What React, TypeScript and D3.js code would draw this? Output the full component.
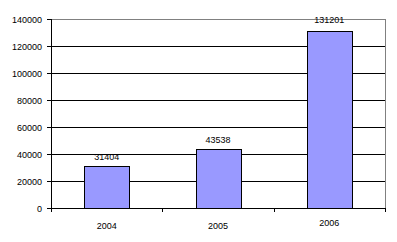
import React from "react";
import * as d3 from "d3";

const categories = ["2004", "2005", "2006"];
const values = [31404, 43538, 131201];
const yTicks = [0, 20000, 40000, 60000, 80000, 100000, 120000, 140000];

const W = 397;
const H = 242;
const left = 51;
const right = 385;
const top = 19;
const bottom = 208;

export default function App() {
  const x = d3.scaleBand<string>().domain(categories).range([left, right]).paddingInner(0).paddingOuter(0);
  const y = d3.scaleLinear().domain([0, 140000]).range([bottom, top]);
  const bw = x.bandwidth() * 0.4;
  const font = "'Liberation Sans', Arial, sans-serif";
  return (
    <svg width={W} height={H} style={{ position: "absolute", left: 0, top: 0 }} fontFamily={font}>
      <rect x={0} y={0} width={W} height={H} fill="#fff" />
      {yTicks.map((t) => (
        <g key={t}>
          {t > 0 && t < 140000 && (
            <line x1={left} x2={right} y1={Math.round(y(t)) + 0.5} y2={Math.round(y(t)) + 0.5} stroke="#000" />
          )}
          <line x1={left - 4} x2={left} y1={Math.round(y(t)) + 0.5} y2={Math.round(y(t)) + 0.5} stroke="#000" />
          <text x={42} y={y(t) + 3.5} textAnchor="end" fontSize={9} fill="#000">
            {t}
          </text>
        </g>
      ))}
      <line x1={left} x2={right} y1={top + 0.5} y2={top + 0.5} stroke="#808080" />
      <line x1={right + 0.5} x2={right + 0.5} y1={top} y2={bottom} stroke="#808080" />
      {categories.map((c, i) => {
        const cx = (x(c) as number) + x.bandwidth() / 2;
        const yt = y(values[i]);
        return (
          <g key={c}>
            <rect
              x={Math.round(cx - bw / 2) + 0.5}
              y={Math.round(yt) + 0.5}
              width={Math.round(bw)}
              height={bottom - Math.round(yt)}
              fill="#9999FF"
              stroke="#000"
            />
            <text x={cx} y={yt - (i === 2 ? 8 : 6)} textAnchor="middle" fontSize={9} fill="#000">
              {values[i]}
            </text>
            <text x={cx} y={i === 2 ? 226 : 229} textAnchor="middle" fontSize={9} fill="#000">
              {c}
            </text>
          </g>
        );
      })}
      {[0, 1, 2, 3].map((i) => {
        const xx = Math.round(left + i * x.bandwidth()) + 0.5;
        return <line key={i} x1={xx} x2={xx} y1={bottom} y2={bottom + 4} stroke="#000" />;
      })}
      <line x1={left + 0.5} x2={left + 0.5} y1={top} y2={bottom + 0.5} stroke="#000" />
      <line x1={left} x2={right + 1} y1={bottom + 0.5} y2={bottom + 0.5} stroke="#000" />
    </svg>
  );
}
